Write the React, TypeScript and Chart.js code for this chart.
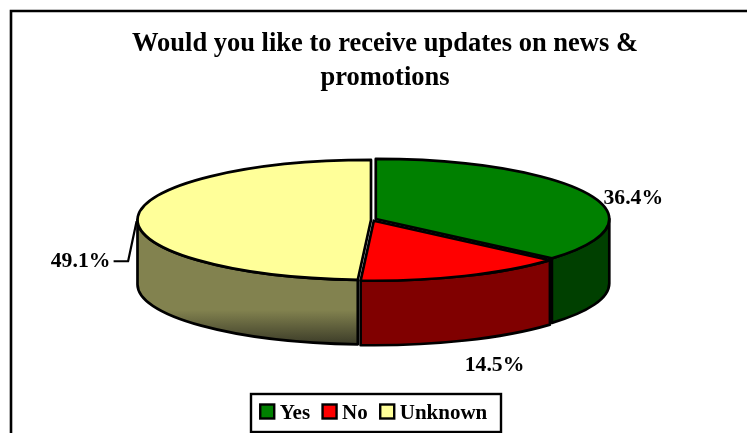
import React, { useEffect, useRef } from "react";
import { Chart, registerables } from "chart.js";

Chart.register(...registerables);

const titleLines = ["Would you like to receive updates on news &", "promotions"];
const categories = ["Yes", "No", "Unknown"];
const values = [36.4, 14.5, 49.1];
const topColors = ["#008000", "#ff0000", "#ffff99"];
const wallColors = ["#004000", "#800000", "#82824f"];

const FONT = "'Liberation Serif'";
const PIE_CY = 220;
const RADIUS = 233.5;
const TILT = 60 / 233.5;
const DEPTH = 64.5;
const SLICE_GAPS = [2.5, 0.8, 2.5];
const STROKE = 2.7;
const labelShifts = [
  [45, 4],
  [30, 89],
  [-57, 43],
];

const geom = (arc: any, i: number) => {
  const mid = (arc.startAngle + arc.endAngle) / 2;
  const cx = arc.x + Math.cos(mid) * SLICE_GAPS[i];
  const cy = PIE_CY + Math.sin(mid) * SLICE_GAPS[i];
  return { mid, cx, cy, rx: arc.outerRadius, ry: arc.outerRadius * TILT };
};

const pie3d = {
  id: "pie3d",
  beforeDatasetDraw(chart: any, args: any) {
    const ctx = chart.ctx;
    const arcs = args.meta.data;
    ctx.save();
    ctx.lineWidth = STROKE;
    ctx.lineJoin = "round";
    ctx.strokeStyle = "#000";
    // walls
    [2, 1, 0].forEach((i) => {
      const a = arcs[i];
      const g = geom(a, i);
      const a0 = Math.max(a.startAngle, 0);
      const a1 = Math.min(a.endAngle, Math.PI);
      if (a1 <= a0) return;
      ctx.beginPath();
      ctx.ellipse(g.cx, g.cy, g.rx, g.ry, 0, a0, a1);
      ctx.ellipse(g.cx, g.cy + DEPTH, g.rx, g.ry, 0, a1, a0, true);
      ctx.closePath();
      if (i === 2) {
        const grad = ctx.createLinearGradient(0, PIE_CY + 90, 0, PIE_CY + 126);
        grad.addColorStop(0, wallColors[i]);
        grad.addColorStop(1, "#383826");
        ctx.fillStyle = grad;
      } else {
        ctx.fillStyle = wallColors[i];
      }
      ctx.fill();
      ctx.stroke();
    });
    // tops, filled by the library's own arc elements
    arcs.forEach((a: any, i: number) => {
      const g = geom(a, i);
      ctx.save();
      ctx.translate(g.cx, g.cy);
      ctx.scale(1, TILT);
      ctx.translate(-a.x, -a.y);
      a.draw(ctx, chart.chartArea);
      ctx.restore();
    });
    arcs.forEach((a: any, i: number) => {
      const g = geom(a, i);
      ctx.beginPath();
      ctx.moveTo(g.cx, g.cy);
      ctx.ellipse(g.cx, g.cy, g.rx, g.ry, 0, a.startAngle, a.endAngle);
      ctx.closePath();
      ctx.stroke();
    });
    // labels
    ctx.fillStyle = "#000";
    ctx.font = `bold 21.7px ${FONT}`;
    ctx.textAlign = "center";
    ctx.textBaseline = "middle";
    arcs.forEach((a: any, i: number) => {
      const g = geom(a, i);
      const ex = g.cx + Math.cos(g.mid) * g.rx;
      const ey = g.cy + Math.sin(g.mid) * g.ry;
      const lx = ex + labelShifts[i][0];
      const ly = ey + labelShifts[i][1];
      ctx.fillText(`${values[i].toFixed(1)}%`, lx, ly);
      if (i === 2) {
        ctx.lineWidth = 2.2;
        ctx.beginPath();
        ctx.moveTo(lx + 33, ly);
        ctx.lineTo(lx + 47.5, ly);
        ctx.lineTo(ex - 1, ey + 3);
        ctx.stroke();
      }
    });
    ctx.restore();
    return false;
  },
};

const frame = {
  id: "frame",
  beforeDraw(chart: any) {
    const ctx = chart.ctx;
    ctx.save();
    ctx.strokeStyle = "#000";
    ctx.lineWidth = 2.6;
    ctx.beginPath();
    ctx.moveTo(11, 433);
    ctx.lineTo(11, 11);
    ctx.lineTo(747, 11);
    ctx.stroke();
    ctx.lineWidth = 2.4;
    ctx.strokeRect(251, 394, 250, 38);
    ctx.restore();
  },
  afterDraw(chart: any) {
    const ctx = chart.ctx;
    ctx.save();
    ctx.strokeStyle = "#000";
    ctx.lineWidth = 2.4;
    chart.legend.legendHitBoxes.forEach((b: any, i: number) => {
      ctx.fillStyle = topColors[i];
      ctx.fillRect(b.left + 0.5, 404.5, 14, 14);
      ctx.strokeRect(b.left + 0.5, 404.5, 14, 14);
    });
    ctx.restore();
  },
  afterLayout(chart: any) {
    // the reference's title is centred on a frame wider than the picture
    chart.titleBlock.right += 23;
    chart.legend.top += 1.5;
    chart.legend.bottom += 1.5;
  },
};

export default function App() {
  const ref = useRef<HTMLCanvasElement | null>(null);
  useEffect(() => {
    const chart = new Chart(ref.current!, {
      type: "pie",
      data: {
        labels: categories,
        datasets: [
          {
            data: values,
            backgroundColor: topColors,
            borderWidth: 0,
            radius: RADIUS,
          } as any,
        ],
      },
      plugins: [frame, pie3d],
      options: {
        responsive: false,
        animation: false,
        layout: { padding: 0 },
        plugins: {
          tooltip: { enabled: false },
          title: {
            display: true,
            text: titleLines,
            color: "#000",
            font: { family: FONT, size: 26.5, weight: "bold", lineHeight: 1.3 },
            padding: { top: 26.7, bottom: 10 },
          },
          legend: {
            position: "bottom",
            labels: {
              color: "#000",
              font: { family: FONT, size: 21, weight: "bold" },
              boxWidth: 9.5,
              boxHeight: 1,
              padding: 12,
              generateLabels: () =>
                categories.map((text, i) => ({
                  text,
                  index: i,
                  fillStyle: "rgba(0,0,0,0)",
                  strokeStyle: "rgba(0,0,0,0)",
                  lineWidth: 0,
                  hidden: false,
                })),
            },
          },
        },
      } as any,
    });
    return () => chart.destroy();
  }, []);
  return (
    <div style={{ position: "fixed", left: 0, top: 0, width: 747, height: 433 }}>
      <canvas ref={ref} width={747} height={433} style={{ display: "block" }} />
    </div>
  );
}
